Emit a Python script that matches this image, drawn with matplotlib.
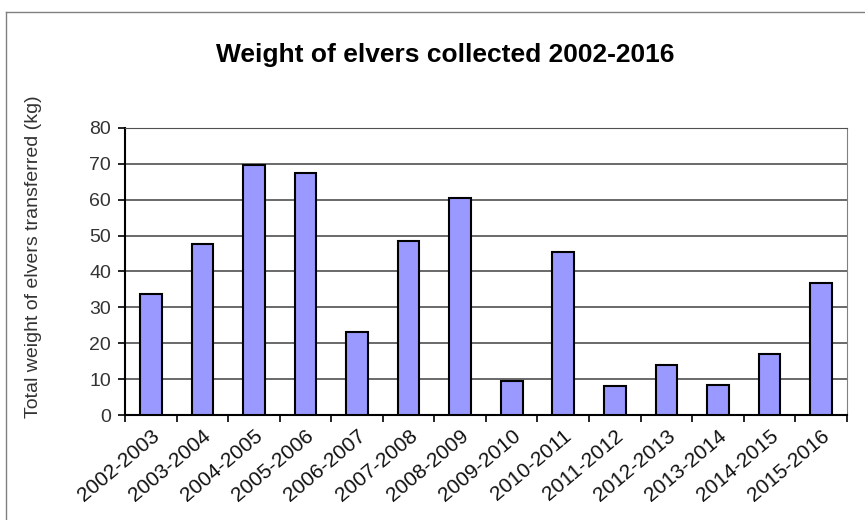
import matplotlib
matplotlib.use("Agg")
import matplotlib.pyplot as plt
from matplotlib.lines import Line2D

# Saisons et poids d'anguillettes transférés (kg)
saisons = ["2002-2003", "2003-2004", "2004-2005", "2005-2006", "2006-2007",
           "2007-2008", "2008-2009", "2009-2010", "2010-2011", "2011-2012",
           "2012-2013", "2013-2014", "2014-2015", "2015-2016"]
poids = [33.7, 47.6, 69.6, 67.3, 23.2, 48.5, 60.5, 9.5, 45.4, 8.2,
         13.8, 8.5, 17.1, 36.9]
graduations_y = [0, 10, 20, 30, 40, 50, 60, 70, 80]

plt.rcParams['font.family'] = ['Liberation Sans', 'DejaVu Sans']

fig = plt.figure(figsize=(8.65, 5.2), dpi=100)
ax = fig.add_axes([0.1445, 0.2019, 0.8345, 0.5521])

x = list(range(len(saisons)))
ax.bar(x, poids, width=0.42, color='#9999ff', edgecolor='black',
       linewidth=1.5, zorder=3)

ax.set_xlim(-0.5, len(saisons) - 0.5)
ax.set_ylim(0, 80)
ax.set_yticks(graduations_y)
ax.set_yticklabels([str(v) for v in graduations_y], fontsize=14, color='#333333')

# Graduations x entre les catégories, étiquettes au centre
ax.set_xticks([i - 0.5 for i in range(len(saisons) + 1)])
ax.set_xticklabels([])
ax.set_xticks(x, minor=True)
ax.set_xticklabels(saisons, minor=True, rotation=40, ha='right',
                   rotation_mode='anchor', fontsize=15, color='#111111')
ax.tick_params(axis='x', which='minor', length=0, pad=8)
ax.tick_params(axis='x', which='major', length=5, width=1.2, direction='out')
ax.tick_params(axis='y', length=5, width=1.2, direction='out', pad=5)

ax.yaxis.grid(True, color='#505050', linewidth=1.2, zorder=0)
ax.set_axisbelow(True)
for cote in ['left', 'bottom']:
    ax.spines[cote].set_color('black')
    ax.spines[cote].set_linewidth(1.5)
ax.spines['top'].set_color('#505050')
ax.spines['right'].set_color('#808080')

ax.set_ylabel("Total weight of elvers transferred (kg)", fontsize=14,
              color='#333333')
ax.yaxis.set_label_coords(-0.115, 0.55)
fig.text(0.515, 0.894, "Weight of elvers collected 2002-2016", ha='center',
         va='center', fontsize=19, fontweight='bold')

# Cadre extérieur du graphique
fig.add_artist(Line2D([6 / 865, 6 / 865], [0, 1 - 12 / 520], color='#808080', lw=1))
fig.add_artist(Line2D([6 / 865, 1], [1 - 12 / 520, 1 - 12 / 520], color='#808080', lw=1))

fig.savefig("out.png", dpi=100)
plt.close(fig)
